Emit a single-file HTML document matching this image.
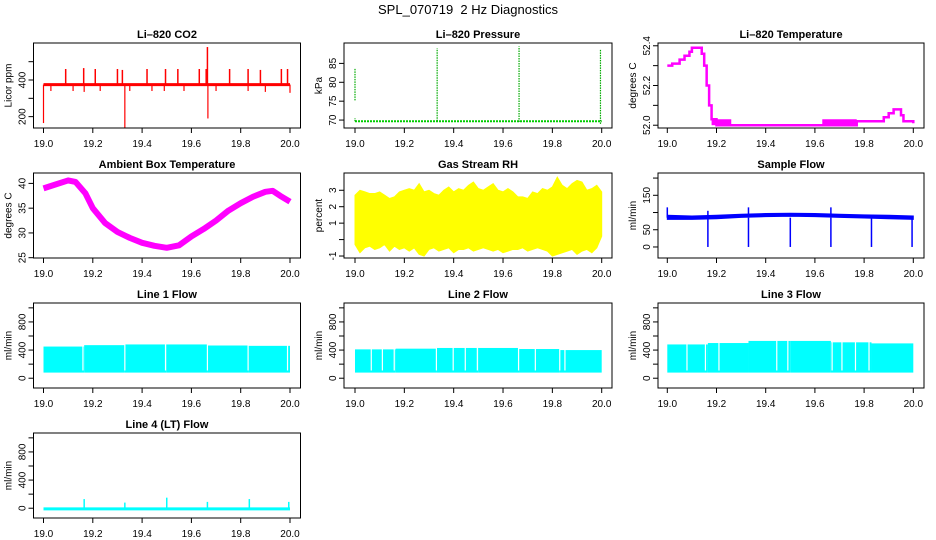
<!DOCTYPE html>
<html><head><meta charset="utf-8"><style>
html,body{margin:0;padding:0;background:#fff;}
svg{display:block;font-family:"Liberation Sans",sans-serif;}
.t{font-size:11px;font-weight:bold;text-anchor:middle;}
.tk{font-size:10px;}
</style></head><body>
<svg id="c" width="936" height="540" viewBox="0 0 936 540">
<text x="468" y="14" font-size="13" text-anchor="middle" style="white-space:pre">SPL_070719  2 Hz Diagnostics</text>
</svg>
<script>
const xTicks=[19.0,19.2,19.4,19.6,19.8,20.0];
const xTickLabels=["19.0","19.2","19.4","19.6","19.8","20.0"];
// CO2
const co2Base=375;
const co2UpX=[19.09,19.163,19.21,19.30,19.32,19.42,19.495,19.545,19.632,19.66,19.755,19.83,19.88,19.965,19.99,19.665];
const co2UpV=[460,465,460,460,455,460,460,460,460,460,460,460,455,460,460,580];
const co2DownX=[19.0,19.33,19.667,19.03,19.12,19.165,19.23,19.35,19.44,19.49,19.57,19.7,19.83,19.9,20.0];
const co2DownV=[165,140,190,340,340,335,340,340,340,340,340,340,340,335,330];
// Pressure
const presBase=69.7;
const presSpikeX=[19.0,19.0,19.333,19.665,19.995];
const presSpikeLo=[75.2,69.7,69.7,69.5,69.0];
const presSpikeHi=[83.8,70.5,89.0,89.5,88.8];
// Li-820 temperature
const ltX=[19.0,19.02,19.03,19.05,19.07,19.09,19.1,19.13,19.14,19.15,19.16,19.17,19.18,19.2,19.63,19.77,19.87,19.88,19.9,19.92,19.94,19.95,19.96,20.0];
const ltV=[52.3,52.31,52.31,52.33,52.35,52.37,52.39,52.39,52.36,52.3,52.2,52.1,52.03,52.0,52.0,52.02,52.02,52.04,52.06,52.08,52.08,52.05,52.02,52.01];
const ltBandX0=[19.18,19.63];
const ltBandX1=[19.26,19.77];
const ltBandLo=[52.0,52.0];
const ltBandHi=[52.03,52.03];
// Ambient box temperature
const abX=[19.0,19.05,19.1,19.13,19.17,19.2,19.25,19.3,19.35,19.4,19.45,19.5,19.55,19.6,19.65,19.7,19.75,19.8,19.85,19.9,19.93,19.96,20.0];
const abV=[39,39.8,40.6,40.3,38,35,32,30.2,29,28,27.4,27,27.5,29.3,30.8,32.5,34.5,36,37.3,38.3,38.5,37.5,36.3];
// Gas stream RH
const rhHi=[2.7,3.0,2.9,2.8,2.8,2.9,2.7,2.5,2.6,2.9,3.0,3.1,3.0,3.4,2.9,3.0,2.8,2.7,3.0,3.2,2.9,3.1,3.0,3.3,3.5,3.1,3.0,3.2,3.4,3.0,2.9,3.1,2.9,2.6,2.6,2.5,2.9,2.8,3.1,3.0,3.2,3.8,3.3,3.1,3.4,3.6,3.5,3.0,3.1,3.3,2.9];
const rhLo=[-0.3,-0.8,-0.5,-0.4,-0.6,-0.5,-0.3,-0.7,-0.4,-0.6,-0.5,-0.7,-0.5,-0.9,-1.0,-0.6,-0.5,-0.7,-0.6,-0.5,-0.8,-0.6,-0.6,-0.5,-0.7,-0.6,-0.5,-0.6,-0.7,-0.6,-0.8,-0.7,-0.6,-0.6,-0.5,-0.7,-0.6,-0.5,-0.6,-0.7,-1.0,-0.9,-0.8,-0.7,-0.6,-0.9,-0.7,-0.6,-0.8,-0.5,0.2];
// Sample flow
const sfTop=[92,90,92,95,97,98,97,95,93,92,90];
const sfBot=[80,80,82,86,88,89,88,86,84,82,80];
const sfDipX=[19.165,19.33,19.5,19.665,19.83,19.995];
const sfSpikeX=[19.0,19.165,19.33,19.665];
const sfSpikeV=[115,105,115,115];
// Line flows
const segBreaks=[19.0,19.165,19.33,19.5,19.665,19.83,20.0];
const l1Tops=[450,470,480,480,465,460];
const l2Tops=[410,420,430,430,415,400];
const l3Tops=[480,500,530,530,510,495];
const flowBottom=80;
const l1Gaps=[19.16,19.33,19.495,19.665,19.83,19.99];
const l2Gaps=[19.066,19.111,19.159,19.33,19.398,19.447,19.496,19.663,19.731,19.83,19.851];
const l3Gaps=[19.08,19.155,19.21,19.445,19.49,19.67,19.71,19.765,19.82];
const l4Base=-10;
const l4SpikeX=[19.165,19.33,19.5,19.665,19.835,19.995];
const l4SpikeV=[130,80,150,90,130,90];

const NS="http://www.w3.org/2000/svg";
const svg=document.getElementById('c');
const cols=[{l:33.5,r:300.5,x0:43.5,x1:290},{l:344,r:612,x0:355,x1:601.7},{l:658,r:924,x0:667.3,x1:913.3}];
const rowTops=[43,173,303,433];
const H=85;
function el(tag,attrs,parent){const e=document.createElementNS(NS,tag);for(const k in attrs)e.setAttribute(k,attrs[k]);(parent||svg).appendChild(e);return e;}
function panel(ci,ri,name,title,ylab,ymin,ymax,yt,ytl){
  const c=cols[ci],top=rowTops[ri],bot=top+H;
  const g=el('g',{});
  
  
  const X=v=>c.x0+(v-19)*(c.x1-c.x0);
  const Y=v=>bot-(v-ymin)/(ymax-ymin)*H;
  const tt=el('text',{x:(c.l+c.r)/2,y:top-5,class:'t'},g);tt.textContent=title;
  
  
  const data=el('g',{},g);
  
  
  const ax=el('g',{},g);
  
  
  el('rect',{x:c.l,y:top,width:c.r-c.l,height:H,fill:'none',stroke:'#000','stroke-width':1},ax);
  xTicks.forEach((v,i)=>{const x=X(v);el('line',{x1:x,x2:x,y1:bot,y2:bot+5,stroke:'#000'},ax);
    const t=el('text',{x:x,y:bot+19,class:'tk','text-anchor':'middle'},ax);t.textContent=xTickLabels[i];});
  yt.forEach((v,i)=>{const y=Y(v);el('line',{x1:c.l,x2:c.l-5,y1:y,y2:y,stroke:'#000'},ax);
    if(ytl[i]!==''){const t=el('text',{x:c.l-8,y:y,class:'tk','text-anchor':'middle',transform:`rotate(-90 ${c.l-8} ${y})`},ax);t.textContent=ytl[i];}});
  const yl=el('text',{x:c.l-22,y:(top+bot)/2,class:'tk','text-anchor':'middle',transform:`rotate(-90 ${c.l-22} ${(top+bot)/2})`},ax);yl.textContent=ylab;
  
  
  return {X,Y,g:data};
}
function ln(p,x1,y1,x2,y2,col,w,extra){const a={x1:x1,y1:y1,x2:x2,y2:y2,stroke:col,'stroke-width':w};if(extra)Object.assign(a,extra);return el('line',a,p);}

// CO2
let p=panel(0,0,'co2','Li\u2013820 CO2','Licor ppm',138,602,[200,300,400,500],['200','','400','']);
ln(p.g,p.X(19),p.Y(co2Base),p.X(20),p.Y(co2Base),'#f00',3);
co2UpX.forEach((x,i)=>ln(p.g,p.X(x),p.Y(co2Base),p.X(x),p.Y(co2UpV[i]),'#f00',1.5));
co2DownX.forEach((x,i)=>ln(p.g,p.X(x),p.Y(co2Base),p.X(x),p.Y(co2DownV[i]),'#f00',1.2));
// Pressure
p=panel(1,0,'pressure','Li\u2013820 Pressure','kPa',67.9,90.4,[70,75,80,85],['70','75','80','85']);
ln(p.g,p.X(19),p.Y(presBase),p.X(20),p.Y(presBase),'#0c0',2,{'stroke-dasharray':'2,1'});
presSpikeX.forEach((x,i)=>ln(p.g,p.X(x),p.Y(presSpikeLo[i]),p.X(x),p.Y(presSpikeHi[i]),'#0a0',1.2,{'stroke-dasharray':'1.5,1'}));
// Li temp
p=panel(2,0,'li820-temperature','Li\u2013820 Temperature','degrees C',51.986,52.414,[52.0,52.1,52.2,52.3,52.4],['52.0','','52.2','','52.4']);
ltBandX0.forEach((x,i)=>el('rect',{x:p.X(x),y:p.Y(ltBandHi[i]),width:p.X(ltBandX1[i])-p.X(x),height:p.Y(ltBandLo[i])-p.Y(ltBandHi[i]),fill:'#f0f'},p.g));
{let d='M'+p.X(ltX[0])+','+p.Y(ltV[0]);for(let i=1;i<ltX.length;i++){d+=' H'+p.X(ltX[i])+' V'+p.Y(ltV[i]);}
el('path',{d:d,fill:'none',stroke:'#f0f','stroke-width':2.5},p.g);}
// Ambient
p=panel(0,1,'ambient-temperature','Ambient Box Temperature','degrees C',24.94,42.1,[25,30,35,40],['25','30','35','40']);
el('polyline',{points:abX.map((x,i)=>p.X(x)+','+p.Y(abV[i])).join(' '),fill:'none',stroke:'#f0f','stroke-width':6,'stroke-linejoin':'round'},p.g);
// RH
p=panel(1,1,'gas-stream-rh','Gas Stream RH','percent',-1.12,4.05,[-1,0,1,2,3],['-1','','1','2','3']);
{const n=rhHi.length;let pts=[];for(let i=0;i<n;i++)pts.push(p.X(19+i/(n-1))+','+p.Y(rhHi[i]));for(let i=n-1;i>=0;i--)pts.push(p.X(19+i/(n-1))+','+p.Y(rhLo[i]));
el('polygon',{points:pts.join(' '),fill:'#ff0',stroke:'#ff0','stroke-width':1},p.g);}
// Sample flow
p=panel(2,1,'sample-flow','Sample Flow','ml/min',-32,214.7,[0,50,100,150,200],['0','50','','150','']);
{const n=sfTop.length;let pts=[];for(let i=0;i<n;i++)pts.push(p.X(19+i/(n-1))+','+p.Y(sfTop[i]));for(let i=n-1;i>=0;i--)pts.push(p.X(19+i/(n-1))+','+p.Y(sfBot[i]));
el('polygon',{points:pts.join(' '),fill:'#00f',stroke:'#00f','stroke-width':1},p.g);}
sfDipX.forEach(x=>ln(p.g,p.X(x),p.Y(85),p.X(x),p.Y(0),'#00f',1.5));
sfSpikeX.forEach((x,i)=>ln(p.g,p.X(x),p.Y(85),p.X(x),p.Y(sfSpikeV[i]),'#00f',1.5));
// Line flows
function flowPanel(ci,ri,name,title,tops,gaps){
  const q=panel(ci,ri,name,title,'ml/min',-139,1069,[0,200,400,600,800,1000],['0','','400','','800','']);
  tops.forEach((t,i)=>el('rect',{x:q.X(segBreaks[i]),y:q.Y(t),width:q.X(segBreaks[i+1])-q.X(segBreaks[i]),height:q.Y(flowBottom)-q.Y(t),fill:'#0ff'},q.g));
  gaps.forEach(x=>ln(q.g,q.X(x),q.Y(1000),q.X(x),q.Y(flowBottom+30),'#fff',1.2));
  return q;
}
flowPanel(0,2,'line1-flow','Line 1 Flow',l1Tops,l1Gaps);
flowPanel(1,2,'line2-flow','Line 2 Flow',l2Tops,l2Gaps);
flowPanel(2,2,'line3-flow','Line 3 Flow',l3Tops,l3Gaps);
p=panel(0,3,'line4-flow','Line 4 (LT) Flow','ml/min',-139,1069,[0,200,400,600,800,1000],['0','','400','','800','']);
ln(p.g,p.X(19),p.Y(l4Base),p.X(20),p.Y(l4Base),'#0ff',3);
l4SpikeX.forEach((x,i)=>ln(p.g,p.X(x),p.Y(l4Base),p.X(x),p.Y(l4SpikeV[i]),'#0ff',1.5));
</script>
</body></html>
